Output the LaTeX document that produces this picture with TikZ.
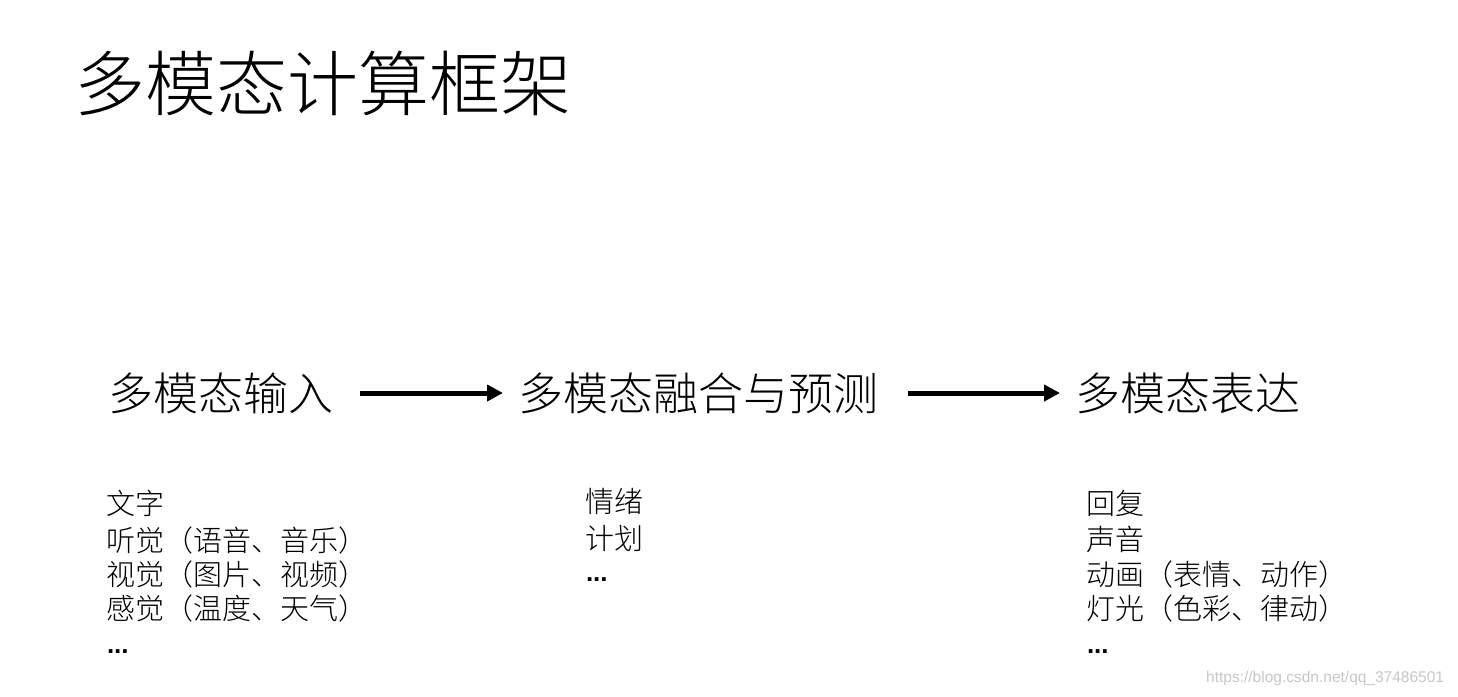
\documentclass[tikz,border=0pt]{standalone}
\usepackage{fontspec}
\usetikzlibrary{arrows.meta}
\IfFontExistsTF{Noto Sans CJK SC Light}{\newfontfamily\cjk{Noto Sans CJK SC Light}}{\newfontfamily\cjk{Noto Sans CJK SC}}
\newfontfamily\wmfont{Liberation Sans}
\tikzset{
  txt/.style={anchor=west, inner sep=0pt, outer sep=0pt, font=\cjk},
  ttl/.style={txt, font=\cjk\fontsize{71}{80}\selectfont},
  head/.style={txt, font=\cjk\fontsize{45}{54}\selectfont},
  item/.style={txt, font=\cjk\fontsize{29}{33}\selectfont},
  dots/.style={anchor=west, inner sep=0pt, outer sep=0pt, font=\wmfont\bfseries\fontsize{26}{30}\selectfont},
  arr/.style={line width=5pt, -{Triangle[length=16pt,width=16pt]}},
  wm/.style={anchor=west, inner sep=0pt, font=\wmfont\fontsize{15.5}{18}\selectfont, text=black!22}
}
\begin{document}
\begin{tikzpicture}[x=1pt,y=-1pt]
\useasboundingbox (0,0) rectangle (1458,696);
\fill[white] (0,0) rectangle (1458,696);
\node[ttl] (title) at (74,83) {多模态计算框架};
\node[head] (in) at (108,393) {多模态输入};
\node[head] (mid) at (518,393) {多模态融合与预测};
\node[head] (out) at (1075,393) {多模态表达};
\draw[arr, shorten <=27pt, shorten >=15pt] (in.east) -- (mid.west);
\draw[arr, shorten <=30pt, shorten >=15pt] (mid.east) -- (out.west);
% left list
\node[item] (a1) at (106,503) {文字};
\node[item] (a2) at (106,540) {听觉（语音、音乐）};
\node[item] (a3) at (106,574) {视觉（图片、视频）};
\node[item] (a4) at (106,608) {感觉（温度、天气）};
\node[dots] (a5) at (107,652) {...};
% middle list
\node[item] (b1) at (585,501) {情绪};
\node[item] (b2) at (585,538) {计划};
\node[dots] (b3) at (586,580) {...};
% right list
\node[item] (c1) at (1086,503) {回复};
\node[item] (c2) at (1086,539) {声音};
\node[item] (c3) at (1086,574) {动画（表情、动作）};
\node[item] (c4) at (1086,608) {灯光（色彩、律动）};
\node[dots] (c5) at (1087,652) {...};
\node[wm] (wm) at (1206,678) {https://blog.csdn.net/qq\_37486501};
\end{tikzpicture}
\end{document}
